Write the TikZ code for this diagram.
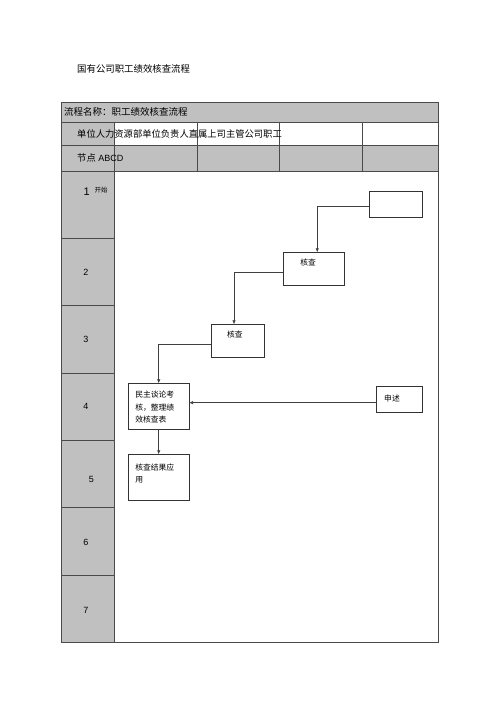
\documentclass[tikz,border=0pt]{standalone}
\usepackage{fontspec}
\setmainfont{Liberation Sans}
\newfontfamily\cjk{Noto Sans CJK SC}
\usetikzlibrary{positioning,arrows.meta}
\definecolor{cellgray}{HTML}{C0C0C0}
\definecolor{rulegray}{HTML}{4A4A4A}
\begin{document}
\begin{tikzpicture}[x=1pt,y=-1pt,
  flowbox/.style={rectangle,draw=black!80,line width=0.6pt,inner sep=0pt,outer sep=0pt},
  boxtext/.style={inner sep=0pt,align=left,font=\cjk\fontsize{7.8}{12.5}\selectfont},
  headtext/.style={inner sep=0pt,anchor=west,font=\cjk\fontsize{9.4}{11}\selectfont},
  rowno/.style={inner sep=0pt,font=\fontsize{9}{10}\selectfont},
  flow/.style={draw=black!75,line width=0.7pt,-{Latex[length=4pt,width=3.5pt]}}]
\useasboundingbox (0,0) rectangle (500,708);
\node[headtext] (title) at (77,69) {国有公司职工绩效核查流程};
% table
\fill[cellgray] (61,102) rectangle (438,122);
\fill[cellgray] (61,122) rectangle (114,145);
\fill[cellgray] (61,145) rectangle (438,171);
\fill[cellgray] (61,171) rectangle (114,642.3);
\begin{scope}[draw=rulegray,line width=0.8pt]
\draw (61,102) rectangle (438,642.3);
\draw (61,122) -- (438,122);
\draw (61,145) -- (438,145);
\draw (61,171) -- (438,171);
\draw (114,122) -- (114,642.3);
\foreach \x in {197,279,362}
  \draw (\x,122) -- (\x,171);
\foreach \i in {1,...,6}
  \draw (61,{171+67.33*\i}) -- (114,{171+67.33*\i});
\end{scope}
\node[headtext,font=\cjk\fontsize{9.5}{11}\selectfont] (name) at (64,112) {流程名称：职工绩效核查流程};
\node[headtext,font=\cjk\fontsize{9.3}{11}\selectfont] (roles) at (77,133.5) {单位人力资源部单位负责人直属上司主管公司职工};
\node[headtext,font=\fontsize{9}{11}\selectfont] (nodes) at (77,158) {{\cjk\fontsize{9.3}{11}\selectfont 节点} ABCD};
% row numbers
\node[rowno,font=\fontsize{11}{12}\selectfont] (row1) at (86.7,191.7) {1};
\node[inner sep=0pt,font=\cjk\fontsize{6.5}{7}\selectfont,right=4.5pt of row1,yshift=1.5pt] (begin) {开始};
\foreach \n/\x/\y in {2/86/272.7,3/86/339,4/86/406.7,5/91.5/479.3,6/86/542.7,7/86/610}
  \node[rowno] (row\n) at (\x,\y) {\n};
% flow boxes
\node[flowbox,minimum width=53.4pt,minimum height=26pt] (start) at (396,204.7) {};
\node[flowbox,minimum width=60.7pt,minimum height=33.4pt] (chk1) at (313.7,269) {};
\node[flowbox,minimum width=53pt,minimum height=32.7pt] (chk2) at (237.5,340.7) {};
\node[flowbox,minimum width=60.7pt,minimum height=45.7pt] (vote) at (158.7,406.2) {};
\node[flowbox,minimum width=46pt,minimum height=26.7pt] (appeal) at (399.7,399.3) {};
\node[flowbox,minimum width=60.7pt,minimum height=46.4pt] (result) at (158.7,477.5) {};
\draw[line width=1.2pt,black!80] (start.north east) -- (start.south east) -- (start.south west);
\draw[line width=1.2pt,black!80] (appeal.north east) -- (appeal.south east) -- (appeal.south west);
\node[boxtext,below right=6.4pt and 16.7pt of chk1.north west] (chk1txt) {核查};
\node[boxtext,below right=6.7pt and 15.8pt of chk2.north west] (chk2txt) {核查};
\node[boxtext,below right=7.5pt and 6.7pt of vote.north west] (votetxt) {民主谈论考\\核，整理绩\\效核查表};
\node[boxtext,below right=8.3pt and 7.3pt of appeal.north west] (appealtxt) {申述};
\node[boxtext,font=\cjk\fontsize{7.8}{11.5}\selectfont,below right=9.4pt and 6.7pt of result.north west] (resulttxt) {核查结果应\\用};
% connectors
\draw[flow] ([yshift=-2pt]start.west) -| ([xshift=3.5pt]chk1.north);
\draw[flow] ([yshift=-3.7pt]chk1.west) -| ([xshift=-3.5pt]chk2.north);
\draw[flow] ([yshift=-3.3pt]chk2.west) -| (vote.north);
\draw[flow] ([yshift=-3.4pt]appeal.west) coordinate (ap) -- (ap -| vote.east);
\draw[flow] (vote.south) -- (result.north);
\end{tikzpicture}
\end{document}
